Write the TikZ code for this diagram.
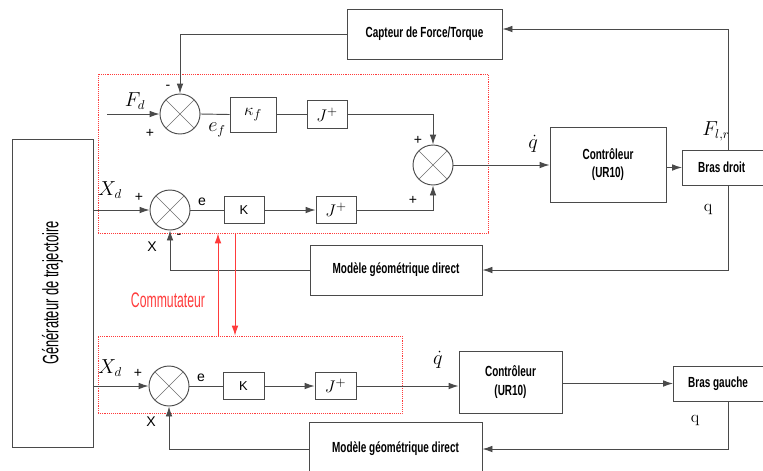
\documentclass[tikz,border=0pt]{standalone}
\usepackage{fontspec}
\usepackage{amsmath}
\usetikzlibrary{arrows.meta}
\newfontfamily\condfont[FakeStretch=0.68]{Liberation Sans}
\newfontfamily\etroitfont[FakeStretch=0.58]{Liberation Sans}
\newfontfamily\arialfont{Liberation Sans}
\definecolor{traitgris}{HTML}{4A4A4A}
\definecolor{rougecom}{HTML}{FF3B3B}
\tikzset{
  dims/.style 2 args={minimum width=#1*0.03cm, minimum height=#2*0.03cm},
  bloc/.style={draw=traitgris, line width=0.8pt, inner sep=0pt, align=center,
    font=\condfont\bfseries\fontsize{12.5}{16}\selectfont},
  titrebloc/.style={font=\condfont\bfseries\fontsize{12.5}{16}\selectfont, inner sep=0pt},
  somme/.style={circle, draw=traitgris, line width=0.8pt, minimum size=1.2cm, inner sep=0pt,
    path picture={\draw[traitgris!80, line width=0.5pt]
      (path picture bounding box.north west) -- (path picture bounding box.south east)
      (path picture bounding box.north east) -- (path picture bounding box.south west);}},
  fleche/.style={draw=traitgris, line width=0.8pt, -{Latex[length=3mm,width=2mm]}},
  trait/.style={draw=traitgris, line width=0.8pt},
  zone/.style={draw=rougecom, densely dotted, line width=0.6pt, inner sep=0pt},
  commut/.style={draw=rougecom, line width=0.8pt, -{Latex[length=3mm,width=2mm]}},
  signe/.style={font=\arialfont\fontsize{12}{14}\selectfont, inner sep=0pt},
  grandeur/.style={font=\fontsize{16}{18}\selectfont, inner sep=0pt},
}

\begin{document}
\begin{tikzpicture}[x=0.03cm, y=-0.03cm]
\useasboundingbox (0,0) rectangle (763,470);

% zones du commutateur
\node[zone, dims={390}{159}] (zoneh) at (293,153.5) {};
\node[zone, dims={304}{77}] (zoneb) at (250,374.5) {};

% blocs
\node[bloc, dims={81}{308}, font=\etroitfont\fontsize{19}{22}\selectfont] (gen) at (52.5,293) {\rotatebox{90}{Générateur de trajectoire}};
\node[bloc, dims={155}{50}] (capteur) at (424.5,34) {Capteur de Force/Torque};
\node[bloc, dims={46}{35}, font=\fontsize{15}{18}\selectfont] (kf) at (253,114.5) {$\kappa_f$};
\node[bloc, dims={40}{28}, font=\fontsize{15}{18}\selectfont] (jf) at (327,114.5) {$J^{+}$};
\node[bloc, dims={40}{27}, font=\arialfont\fontsize{11}{13}\selectfont] (k1) at (244,210) {K};
\node[bloc, dims={40}{27}, font=\fontsize{15}{18}\selectfont] (j1) at (336,210) {$J^{+}$};
\node[bloc, dims={116}{75}] (ctrl1) at (608,164.5) {Contrôleur\\(UR10)};
\node[bloc, dims={118}{35}, anchor=west] (bd) at (682,167.5) {};
\node[titrebloc, anchor=west] (tbd) at (698,167.5) {Bras droit};
\node[bloc, dims={172}{50}] (mgd1) at (396,270) {Modèle géométrique direct};
\node[bloc, dims={41}{27}, font=\arialfont\fontsize{11}{13}\selectfont] (k2) at (243.5,386) {K};
\node[bloc, dims={41}{27}, font=\fontsize{15}{18}\selectfont] (j2) at (335.5,386) {$J^{+}$};
\node[bloc, dims={103}{62}] (ctrl2) at (510.5,382) {Contrôleur\\(UR10)};
\node[bloc, dims={117}{35}, anchor=west] (bg) at (673,383.5) {};
\node[titrebloc, anchor=west] (tbg) at (688,383.5) {Bras gauche};
\node[bloc, dims={173}{54}] (mgd2) at (395.5,449) {Modèle géométrique direct};

% sommateurs
\node[somme] (s1) at (180,114) {};
\node[somme] (s2) at (433,165) {};
\node[somme] (s3) at (170,210) {};
\node[somme] (s4) at (169,386) {};

% points libres
\coordinate (fd) at (107,116);
\coordinate (rt) at (728,29);
\coordinate (cu) at (218,0);
\coordinate (cd) at (235,0);

% boucle en effort
\draw[fleche] (fd |- s1) -- (s1.west);
\draw[fleche] (capteur.west) -| (s1.north);
\draw[trait] (s1.east) -- (kf.west);
\draw[trait] (kf.east) -- (jf.west);
\draw[fleche] (jf.east) -| (s2.north);
\draw[fleche] (bd.north -| rt) -- (rt) -- (capteur.east |- rt);

% boucle en position, bras droit
\draw[fleche] (gen.east |- s3) -- (s3.west);
\draw[trait] (s3.east) -- (k1.west);
\draw[fleche] (k1.east) -- (j1.west);
\draw[fleche] (j1.east) -| (s2.south);
\draw[fleche] (s2.east) -- (ctrl1.west |- s2);
\draw[fleche] (ctrl1.east |- bd.west) -- (bd.west);
\draw[fleche] (bd.south -| rt) |- (mgd1.east);
\draw[fleche] (mgd1.west) -| (s3.south);

% bras gauche
\draw[fleche] (gen.east |- s4) -- (s4.west);
\draw[trait] (s4.east) -- (k2.west);
\draw[fleche] (k2.east) -- (j2.west);
\draw[fleche] (j2.east) -- (ctrl2.west |- j2.east);
\draw[fleche] (ctrl2.east |- bg.west) -- (bg.west);
\draw[fleche] (bg.south -| rt) |- (mgd2.east);
\draw[fleche] (mgd2.west) -| (s4.south);

% commutateur
\draw[commut] (zoneb.north -| cu) -- (zoneh.south -| cu);
\draw[commut] (zoneh.south -| cd) -- (zoneb.north -| cd);
\node[text=rougecom, font=\etroitfont\fontsize{18}{20}\selectfont, inner sep=0pt] (lcom) at (168,300) {Commutateur};

% etiquettes
\node[grandeur] (lfd) at (135,101) {$F_d$};
\node[signe] (p1) at (150,133) {+};
\node[signe] (m1) at (168,87) {-};
\node[grandeur] (lef) at (217,130) {$e_f$};
\node[signe] (p2) at (418,140) {+};
\node[signe] (p3) at (413,200) {+};
\node[grandeur] (lxd1) at (110,190) {$X_d$};
\node[signe] (p4) at (139,197) {+};
\node[signe] (le1) at (202,202) {e};
\node[signe] (lx1) at (152,247) {X};
\node[signe] (m2) at (179,236) {-};
\node[grandeur] (lqd1) at (533,144) {$\dot{q}$};
\node[grandeur] (lf) at (716,131) {$F_{l,r}$};
\node[grandeur, font=\fontsize{14}{16}\selectfont] (lq1) at (708,209) {q};
\node[grandeur] (lxd2) at (110,368) {$X_d$};
\node[signe] (p5) at (138,373) {+};
\node[signe] (le2) at (201,378) {e};
\node[signe] (lx2) at (151,422) {X};
\node[grandeur] (lqd2) at (438,360) {$\dot{q}$};
\node[grandeur, font=\fontsize{14}{16}\selectfont] (lq2) at (695,420) {q};
\end{tikzpicture}
\end{document}
